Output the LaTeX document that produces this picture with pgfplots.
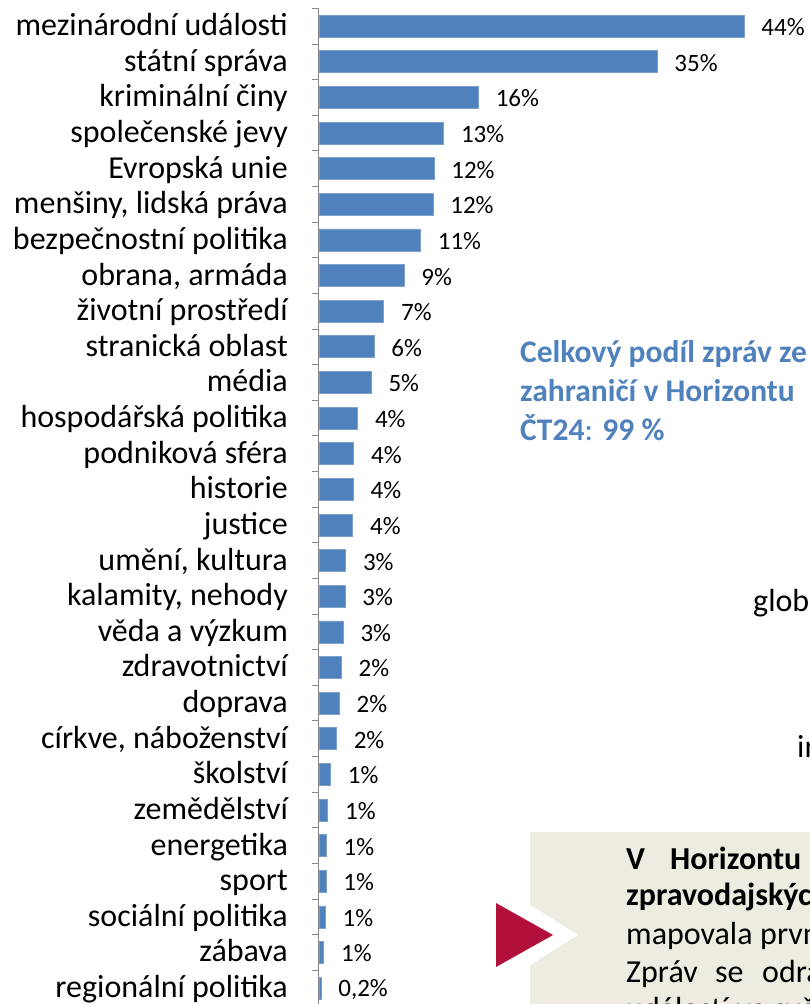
\documentclass[border=0pt]{standalone}
\usepackage{pgfplots}
\pgfplotsset{compat=1.18}
\usepackage{fontspec}
\setmainfont{Carlito}
\definecolor{barblue}{RGB}{79,129,189}
\definecolor{boxbeige}{RGB}{238,236,225}
\definecolor{arrowred}{RGB}{176,16,58}
\definecolor{axgray}{RGB}{134,134,134}

\pgfplotstableread{
x y lab
44.0 0 44
35.0 1 35
16.5 2 16
12.9 3 13
11.9 4 12
11.8 5 12
10.5 6 11
8.8 7 9
6.7 8 7
5.7 9 6
5.4 10 5
4.0 11 4
3.6 12 4
3.55 13 4
3.5 14 4
2.76 15 3
2.7 16 3
2.5 17 3
2.3 18 2
2.1 19 2
1.8 20 2
1.2 21 1
0.9 22 1
0.75 23 1
0.72 24 1
0.65 25 1
0.5 26 1
0.2 27 0,2
}\datatable

\begin{document}
\begin{tikzpicture}[x=1pt,y=1pt]
\useasboundingbox (0,0) rectangle (810,1004);
\clip (0,0) rectangle (810,1004);
% callout box
\fill[boxbeige] (530,-30) rectangle (840,172);
\fill[white] (530,99) -- (578,69) -- (530,39) -- cycle;
\fill[arrowred] (496,101) -- (553,69) -- (496,37) -- cycle;

\begin{axis}[
  at={(319pt,995.6pt)}, anchor=north west,
  scale only axis, width=483pt, height=997.6pt,
  xmin=0, xmax=50, ymin=-0.5, ymax=27.5, y dir=reverse,
  xbar, bar width=22pt,
  axis x line=none, axis y line=left,
  y axis line style={-, draw=axgray, line width=1pt},
  xtick=\empty,
  ytick={0,...,27},
  yticklabels={mezinárodní události, státní správa, kriminální činy, společenské jevy, Evropská unie, {menšiny, lidská práva}, bezpečnostní politika, {obrana, armáda}, životní prostředí, stranická oblast, média, hospodářská politika, podniková sféra, historie, justice, {umění, kultura}, {kalamity, nehody}, věda a výzkum, zdravotnictví, doprava, {církve, náboženství}, školství, zemědělství, energetika, sport, sociální politika, zábava, regionální politika},
  major tick length=0pt,
  minor ytick={-0.5,0.5,...,27.5},
  minor tick length=7pt,
  tick align=outside,
  minor tick style={draw=axgray, line width=1pt},
  typeset ticklabels with strut,
  yticklabel style={font=\fontsize{32}{32}\selectfont, anchor=east, inner sep=0pt, xshift=-31pt, yshift=-3pt},
  clip=false,
]
\addplot[fill=barblue, draw=barblue!75!white, line width=0.8pt,
  nodes near coords={\pgfplotspointmeta\%},
  point meta=explicit symbolic,
  nodes near coords style={font=\fontsize{25}{25}\selectfont, anchor=west, inner sep=0pt, xshift=17pt, yshift=-1pt, text=black}]
  table[x=x, y=y, meta=lab] {\datatable};
\end{axis}

% blue annotation
\begin{scope}[every node/.style={anchor=base west, inner sep=0pt, font=\fontsize{31.5}{31.5}\selectfont\bfseries, text=barblue}]
\node at (520,641) {Celkový podíl zpráv ze};
\node at (520,602) {zahraničí v Horizontu};
\node at (520,563) {ČT24\mdseries: \bfseries 99 \%};
\end{scope}

% cut-off words
\begin{scope}[every node/.style={anchor=base west, inner sep=0pt, font=\fontsize{32}{32}\selectfont}]
\node at (753,392) {globální};
\node at (797,246) {informace};
\end{scope}

% box text
\begin{scope}[every node/.style={anchor=base west, inner sep=0pt, font=\fontsize{32}{32}\selectfont}]
\node at (626,134) {\bfseries V};
\node at (670,134) {\bfseries Horizontu};
\node at (626,98) {\bfseries zpravodajských};
\node at (626,59) {mapovala};
\node at (760,59) {prvními};
\node at (626,21) {Zpráv};
\node at (715,21) {se};
\node at (762,21) {odrazila};
\node at (626,-16) {událostí ve světě};
\end{scope}
\end{tikzpicture}
\end{document}
